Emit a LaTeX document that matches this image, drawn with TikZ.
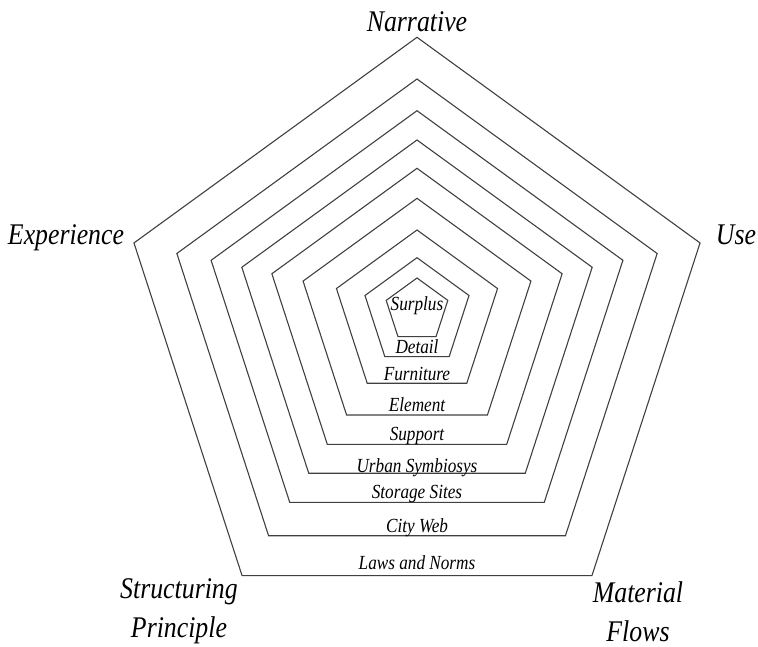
\documentclass[tikz,border=0pt]{standalone}
\usepackage{fontspec}
\setmainfont{Liberation Serif}[FakeStretch=0.86]
\tikzset{
	ring/.style={draw=black!75, line width=1.1pt, line join=miter},
	ringlabel/.style={font=\fontsize{20}{22}\selectfont\itshape, inner sep=0pt, anchor=base},
	polelabel/.style={font=\fontsize{30}{39}\selectfont\itshape, inner sep=0pt, anchor=base, align=center}
}
\begin{document}
\begin{tikzpicture}[x=1pt,y=1pt]
	\useasboundingbox (0,0) rectangle (758,-647);

	% nested pentagons, outermost first: radius/centre height
	\foreach \r/\cy in {297.6/334.9, 252.5/331.5, 216.5/327.2, 184.2/324.2, 152.6/320.9,
			119.8/318.1, 84.7/314.7, 54.7/312.4, 32.4/310.4}
		\draw[ring, shift={(417,-\cy)}] (90:\r) -- (162:\r) -- (234:\r) -- (306:\r) -- (18:\r) -- cycle;

	% ring names, sitting on the bottom edges
	\foreach \name/\txt/\y in {laws/Laws and Norms/569, cityweb/City Web/532,
			storage/Storage Sites/498, symbiosys/Urban Symbiosys/472, support/Support/440,
			element/Element/411.7, furniture/Furniture/380.7, detail/Detail/353, surplus/Surplus/310.7}
		\node[ringlabel] (\name) at (417,-\y) {\txt};

	% the five corners (two-line names: base is the last line)
	\node[polelabel] (narrative) at (417,-32) {Narrative};
	\node[polelabel] (use) at (736,-245) {Use};
	\node[polelabel] (experience) at (66,-245) {Experience};
	\node[polelabel] (structuring) at (179,-637) {Structuring\\Principle};
	\node[polelabel] (material) at (638,-641) {Material\\Flows};
\end{tikzpicture}
\end{document}
